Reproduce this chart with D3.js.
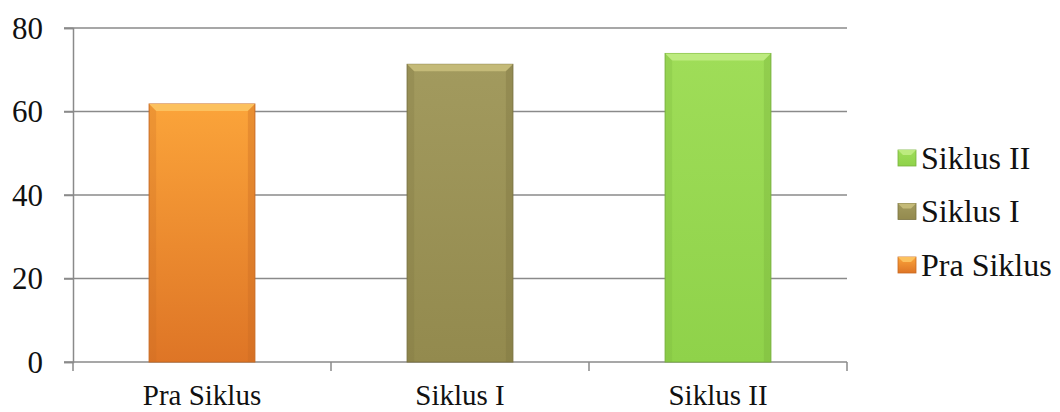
<!DOCTYPE html>
<html>
<head>
<meta charset="utf-8">
<script src="https://cdn.jsdelivr.net/npm/d3@7"></script>
<style>
  body { margin: 0; background: #fff; }
</style>
</head>
<body>
<div id="chart"></div>
<script>
const categories = ['Pra Siklus', 'Siklus I', 'Siklus II']
const values = [61.8, 71.3, 73.9]
const yTicks = [0, 20, 40, 60, 80]
const legendOrder = ['Siklus II', 'Siklus I', 'Pra Siklus']

const FONT = '"Liberation Serif", "Times New Roman", "DejaVu Serif", serif'

const COLORS = {
  'Pra Siklus': { top: '#FBA43A', bottom: '#DE7526', bevel: '#FCC15E', edge: '#C96A22' },
  'Siklus I': { top: '#A29A5E', bottom: '#938A4E', bevel: '#C4BA78', edge: '#7A7340' },
  'Siklus II': { top: '#9FDD58', bottom: '#8FD24A', bevel: '#BDEB7F', edge: '#78B23C' }
}

const MARGIN = { TOP: 28, LEFT: 73, RIGHT: 213, BOTTOM: 50 }
const W = 1060, H = 412
const WIDTH = W - MARGIN.LEFT - MARGIN.RIGHT
const HEIGHT = 362 - MARGIN.TOP

const svg = d3.select('#chart').append('svg')
  .attr('width', W).attr('height', H)

const defs = svg.append('defs')
categories.forEach((c, i) => {
  const g = defs.append('linearGradient')
    .attr('id', 'grad' + i)
    .attr('x1', 0).attr('y1', 0).attr('x2', 0).attr('y2', 1)
  g.append('stop').attr('offset', '0%').attr('stop-color', COLORS[c].top)
  g.append('stop').attr('offset', '100%').attr('stop-color', COLORS[c].bottom)
})

const g = svg.append('g').attr('transform', `translate(${MARGIN.LEFT}, ${MARGIN.TOP})`)

const y = d3.scaleLinear().domain([0, 80]).range([HEIGHT, 0])
const x = d3.scaleBand()
  .domain(categories)
  .range([0, WIDTH])
  .paddingInner(0.59)
  .paddingOuter(0.295)

// gridlines
g.append('g')
  .selectAll('line')
  .data(yTicks.filter(d => d > 0))
  .enter().append('line')
    .attr('x1', -9).attr('x2', WIDTH)
    .attr('y1', d => y(d)).attr('y2', d => y(d))
    .attr('stroke', '#8a8a8a').attr('stroke-width', 1.5)

// y axis
const yAxis = g.append('g')
  .call(d3.axisLeft(y).tickValues(yTicks).tickSize(9).tickPadding(21))
yAxis.select('.domain').attr('stroke', '#8a8a8a').attr('stroke-width', 1.5)
yAxis.selectAll('.tick line').attr('stroke', '#8a8a8a').attr('stroke-width', 1.5)
yAxis.selectAll('text')
  .style('font-family', FONT).style('font-size', '31px')
  .attr('fill', '#111').attr('dy', '0.33em')

// x axis
const step = x.step()
const xTickPos = d3.range(categories.length + 1).map(i => i * step)
const xAxisG = g.append('g').attr('transform', `translate(0, ${HEIGHT})`)
xAxisG.append('line')
  .attr('x1', -9).attr('x2', WIDTH).attr('y1', 0).attr('y2', 0)
  .attr('stroke', '#8a8a8a').attr('stroke-width', 1.5)
xAxisG.selectAll('.xt')
  .data(xTickPos)
  .enter().append('line')
    .attr('x1', d => d).attr('x2', d => d)
    .attr('y1', 0).attr('y2', 9)
    .attr('stroke', '#8a8a8a').attr('stroke-width', 1.5)
xAxisG.selectAll('.xl')
  .data(categories)
  .enter().append('text')
    .attr('x', d => x(d) + x.bandwidth() / 2)
    .attr('y', 43)
    .attr('text-anchor', 'middle')
    .attr('fill', '#111')
    .style('font-family', FONT)
    .style('font-size', '29px')
    .text(d => d)

// bars
const bars = g.selectAll('.bar')
  .data(categories.map((c, i) => ({ cat: c, value: values[i], i })))
  .enter().append('g').attr('class', 'bar')

bars.append('rect')
  .attr('x', d => x(d.cat))
  .attr('y', d => y(d.value))
  .attr('width', x.bandwidth())
  .attr('height', d => HEIGHT - y(d.value))
  .attr('fill', d => `url(#grad${d.i})`)
  .attr('stroke', d => COLORS[d.cat].edge)
  .attr('stroke-width', 1)

// bevel on top
const bev = 7
bars.append('path')
  .attr('d', d => {
    const x0 = x(d.cat), x1 = x0 + x.bandwidth(), y0 = y(d.value)
    return `M${x0},${y0} L${x1},${y0} L${x1 - bev},${y0 + bev} L${x0 + bev},${y0 + bev} Z`
  })
  .attr('fill', d => COLORS[d.cat].bevel)
bars.append('path')
  .attr('d', d => {
    const x0 = x(d.cat), y0 = y(d.value), y1 = HEIGHT
    return `M${x0},${y0} L${x0 + bev},${y0 + bev} L${x0 + bev},${y1} L${x0},${y1} Z`
  })
  .attr('fill', d => COLORS[d.cat].edge).attr('opacity', 0.25)
bars.append('path')
  .attr('d', d => {
    const x1 = x(d.cat) + x.bandwidth(), y0 = y(d.value), y1 = HEIGHT
    return `M${x1},${y0} L${x1 - bev},${y0 + bev} L${x1 - bev},${y1} L${x1},${y1} Z`
  })
  .attr('fill', d => COLORS[d.cat].edge).attr('opacity', 0.35)

// legend
const legend = svg.append('g').attr('transform', 'translate(898, 158)')
const items = legend.selectAll('.item')
  .data(legendOrder)
  .enter().append('g')
    .attr('transform', (d, i) => `translate(0, ${i * 53.5})`)
items.append('rect')
  .attr('x', 0).attr('y', -8)
  .attr('width', 18).attr('height', 16)
  .attr('fill', d => `url(#grad${categories.indexOf(d)})`)
  .attr('stroke', d => COLORS[d].edge).attr('stroke-width', 0.8)
items.append('path')
  .attr('d', 'M0,-8 L18,-8 L13,-3 L5,-3 Z')
  .attr('fill', d => COLORS[d].bevel)
items.append('text')
  .attr('x', 23).attr('y', 0).attr('dy', '0.33em')
  .attr('fill', '#111')
  .style('font-family', FONT)
  .style('font-size', '32px')
  .text(d => d)
</script>
</body>
</html>
